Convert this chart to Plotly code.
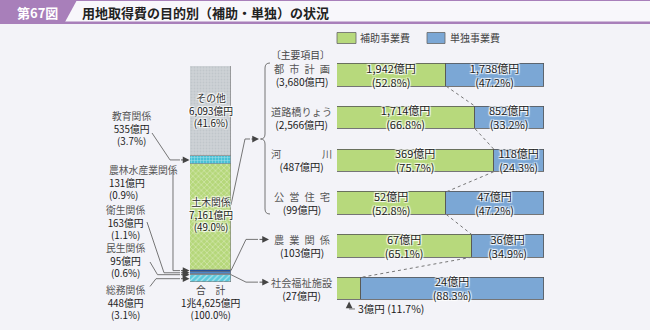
import plotly.graph_objects as go

W, H = 650, 330
FONT = "Noto Sans CJK JP, Noto Sans, sans-serif"

# ---------------- data ----------------
# left stacked bar, bottom -> top (億円)
seg_names = ["総務関係", "民生関係", "衛生関係", "農林水産業関係", "土木関係", "教育関係", "その他"]
seg_values = [448, 95, 163, 131, 7161, 535, 6093]
seg_pcts = [3.1, 0.6, 1.1, 0.9, 49.0, 3.7, 41.6]
total_text = "1兆4,625億円"
total_pct = 100.0

# right: main items (億円 / %)
row_names = ["都市計画", "道路橋りょう", "河川", "公営住宅", "農業関係", "社会福祉施設"]
row_labels = ["都\u2002市\u2002計\u2002画", "道路橋りょう", "河\u3000\u3000\u3000\u3000川",
              "公\u2002営\u2002住\u2002宅", "農\u2002業\u2002関\u2002係", "社会福祉施設"]
row_totals = [3680, 2566, 487, 99, 103, 27]
hojo_values = [1942, 1714, 369, 52, 67, 3]
hojo_pcts = [52.8, 66.8, 75.7, 52.8, 65.1, 11.7]
tandoku_values = [1738, 852, 118, 47, 36, 24]
tandoku_pcts = [47.2, 33.2, 24.3, 47.2, 34.9, 88.3]
legend_names = ["補助事業費", "単独事業費"]

# ---------------- styles / geometry ----------------
GREEN = "#b7d97c"
BLUE = "#7ba7d5"
PURPLE = "#a87fba"
BG = "#f3f3f8"
LINE = "#666666"
SHADOW = "1px 1px 1px #ffffff, -1px -1px 1px #ffffff, 1px -1px 1px #ffffff, -1px 1px 1px #ffffff"

L_X0, L_X1, L_TOP, L_BOT = 190, 231, 66, 282
R_X0, R_X1, R_TOP, R_BOT = 337, 544, 53.6, 310
BAR_W = 0.53

seg_styles = [
    dict(color="#5cc9dc", pattern=dict(shape="/", fgcolor="#ffffff", size=4, solidity=0.3)),
    dict(color="#98a1ab"),
    dict(color="#4f86c6"),
    dict(color="#24539b"),
    dict(color="#b5d77a", pattern=dict(shape="x", fgcolor="#eef6dc", size=4, solidity=0.35)),
    dict(color="#49c1d6", pattern=dict(shape="+", fgcolor="#ffffff", size=3, solidity=0.3)),
    dict(color="#cdd2d6", pattern=dict(shape=".", fgcolor="#b3b9be", size=3, solidity=0.3)),
]


def px(x):
    return x / W


def py(y):
    return 1 - y / H


total_sum = sum(seg_values)
seg_mids = []
acc = 0
for v in seg_values:
    seg_mids.append(acc + v / 2)
    acc += v


def left_ypx(v):
    return L_BOT - v / total_sum * (L_BOT - L_TOP)


n_rows = len(row_names)
row_step = (R_BOT - R_TOP) / n_rows


def row_center(i):
    return R_TOP + (i + 0.5) * row_step


def r_xpx(p):
    return R_X0 + p / 100 * (R_X1 - R_X0)


fig = go.Figure()

# ---------------- left stacked bar ----------------
for name, val, st in zip(seg_names, seg_values, seg_styles):
    fig.add_bar(x=[0], y=[val], width=1, name=name, xaxis="x", yaxis="y",
                marker=dict(line=dict(color="#7a7a7a", width=0.6), **st),
                hoverinfo="skip", showlegend=False)

# ---------------- right horizontal stacked bars ----------------
ys = list(range(n_rows))
hojo_text = [f"{v:,}億円<br>({p:.1f}%)" if p > 20 else "" for v, p in zip(hojo_values, hojo_pcts)]
tan_text = [f"{v:,}億円<br>({p:.1f}%)" for v, p in zip(tandoku_values, tandoku_pcts)]
common = dict(orientation="h", xaxis="x2", yaxis="y2", width=BAR_W, textposition="inside",
              insidetextanchor="middle", textangle=0, constraintext="none",
              hoverinfo="skip", showlegend=False)
fig.add_bar(y=ys, x=hojo_pcts, name=legend_names[0], text=hojo_text,
            marker=dict(color=GREEN, line=dict(color="#555555", width=0.8)),
            textfont=dict(family=FONT, size=11, color="#222222", shadow=SHADOW), **common)
fig.add_bar(y=ys, x=tandoku_pcts, name=legend_names[1], text=tan_text,
            marker=dict(color=BLUE, line=dict(color="#555555", width=0.8)),
            textfont=dict(family=FONT, size=11, color="#222222", shadow=SHADOW), **common)

# dotted connectors between the green/blue boundaries
for i in range(n_rows - 1):
    fig.add_scatter(x=[hojo_pcts[i], hojo_pcts[i + 1]], y=[i + BAR_W / 2, i + 1 - BAR_W / 2],
                    mode="lines", xaxis="x2", yaxis="y2", hoverinfo="skip", showlegend=False,
                    line=dict(color="#777777", width=1, dash="dot"))

# ---------------- decorations ----------------
shapes = []
annotations = []


def text(x, y, lines, size=10, xanchor="center", align=None, shadow=None):
    """lines: list of (text, color, bold)."""
    parts = []
    for t, c, b in lines:
        if b:
            t = f"<b>{t}</b>"
        parts.append(f"<span style='color:{c}'>{t}</span>")
    font = dict(family=FONT, size=size, color=lines[0][1])
    if shadow:
        font["shadow"] = shadow
    annotations.append(dict(x=px(x), y=py(y), xref="paper", yref="paper", text="<br>".join(parts),
                            showarrow=False, xanchor=xanchor, yanchor="middle",
                            align=align or ("left" if xanchor == "left" else "center"),
                            borderpad=0, font=font))


def poly(points, color=LINE, width=0.9):
    d = "M" + " L".join(f"{px(x):.5f},{py(y):.5f}" for x, y in points)
    shapes.append(dict(type="path", xref="paper", yref="paper", path=d,
                       line=dict(color=color, width=width), layer="above"))


def arrow(x_tip, y_tip, ax, ay):
    annotations.append(dict(x=px(x_tip), y=py(y_tip), xref="paper", yref="paper", text="",
                            showarrow=True, ax=ax, ay=ay, axref="pixel", ayref="pixel",
                            arrowhead=2, arrowsize=1.5, arrowwidth=0.9, arrowcolor="#444444",
                            standoff=0, startstandoff=0))


NAME_C = "#555555"
NUM_C = "#1a1a1a"

# title band
shapes.append(dict(type="rect", xref="paper", yref="paper", x0=0, x1=1, y0=py(22), y1=1,
                   fillcolor="#f8f7fb", line=dict(width=0), layer="below"))
shapes.append(dict(type="rect", xref="paper", yref="paper", x0=0, x1=1, y0=py(24), y1=py(21.5),
                   fillcolor=PURPLE, line=dict(width=0), layer="below"))
shapes.append(dict(type="rect", xref="paper", yref="paper", x0=0, x1=1, y0=py(1), y1=1,
                   fillcolor=PURPLE, line=dict(width=0), layer="below"))
shapes.append(dict(type="path", xref="paper", yref="paper",
                   path=f"M0,1 L{px(77)},1 L{px(65)},{py(22)} L0,{py(22)} Z",
                   fillcolor=PURPLE, line=dict(width=0), layer="below"))
text(37, 12, [("第67図", "#ffffff", True)], size=13)
text(81, 12, [("用地取得費の目的別（補助・単独）の状況", "#222222", True)], size=13, xanchor="left")

# legend
for (x0, x1), col, lab, tx in [((337, 356), GREEN, legend_names[0], 359), ((427, 445), BLUE, legend_names[1], 449)]:
    shapes.append(dict(type="rect", xref="paper", yref="paper", x0=px(x0), x1=px(x1), y0=py(43.5), y1=py(32.5),
                       fillcolor=col, line=dict(color="#666666", width=0.8), layer="above"))
    text(tx, 38, [(lab, "#444444", False)], size=10, xanchor="left")

# left bar inner labels (positioned from data)
for idx, shift in ((6, 0), (4, -2)):
    ymid = left_ypx(seg_mids[idx]) + shift
    text(210.5, ymid, [(seg_names[idx], "#333333", False), (f"{seg_values[idx]:,}億円", NUM_C, False),
                       (f"({seg_pcts[idx]:.1f}%)", NUM_C, False)], size=9.8, shadow=SHADOW)

# total under bar
text(210, 302.5, [("合\u3000計", "#444444", False), (total_text, NUM_C, False),
                  (f"({total_pct:.1f}%)", NUM_C, False)], size=9.8)

# left small-segment labels
left_lab = {
    5: dict(x=131, y=128.5, anchor="center", start=(152, 133), knee=170),
    3: dict(x=108, y=182, anchor="left", start=(173, 171), knee=173),
    2: dict(x=126, y=222, anchor="center", start=(147, 222), knee=164),
    1: dict(x=126, y=260, anchor="center", start=(150, 262), knee=157.5),
    0: dict(x=126, y=302.5, anchor="center", start=(150, 286.5), knee=156),
}
for idx, d in left_lab.items():
    lines = [(seg_names[idx], NAME_C, False), (f"{seg_values[idx]:,}億円", NUM_C, False),
             (f"({seg_pcts[idx]:.1f}%)", NUM_C, False)]
    text(d["x"], d["y"], lines, size=9.8, xanchor=d["anchor"])
    yt = left_ypx(seg_mids[idx])
    poly([d["start"], (d["knee"], yt), (180, yt)])
    arrow(189.5, yt, -10, 0)

# right side: bracket + leaders
text(270, 55, [("〔主要項目〕", "#444444", False)], size=9.8, xanchor="left")
shapes.append(dict(type="path", xref="paper", yref="paper", layer="above",
                   path=(f"M{px(270)},{py(63)} Q{px(265)},{py(63)} {px(265)},{py(68)} "
                         f"L{px(265)},{py(134)} Q{px(265)},{py(139)} {px(260.5)},{py(139)} "
                         f"Q{px(265)},{py(139)} {px(265)},{py(144)} L{px(265)},{py(209)} "
                         f"Q{px(265)},{py(214)} {px(270)},{py(214)}"),
                   line=dict(color=LINE, width=0.9)))
poly([(231, 205), (245, 139), (250, 139)])
arrow(259, 139, -9, 0)

y_agri = row_center(4) - 6.5
y_welf = row_center(5) - 6.5
poly([(231, left_ypx(seg_mids[3])), (246, y_agri), (258, y_agri)])
arrow(269, y_agri, -11, 0)
poly([(231, left_ypx(seg_mids[1])), (246, y_welf), (258, y_welf)])
arrow(269, y_welf, -11, 0)

# row labels
for i in range(n_rows):
    c = row_center(i)
    text(301.5, c, [(row_labels[i], NAME_C, False), (f"({row_totals[i]:,}億円)", NUM_C, False)], size=10.2)

# small-value callout for last green bar
last = n_rows - 1
xa = r_xpx(hojo_pcts[last] / 2)
bar_bottom = row_center(last) + BAR_W / 2 * row_step
poly([(xa, bar_bottom + 9), (355, bar_bottom + 9)])
arrow(xa, bar_bottom + 1.5, 0, 8)
text(357, bar_bottom + 9, [(f"{hojo_values[last]}億円 ({hojo_pcts[last]:.1f}%)", NUM_C, False)], size=10.5,
     xanchor="left")

fig.update_layout(
    width=W, height=H, margin=dict(l=0, r=0, t=0, b=0),
    paper_bgcolor=BG, plot_bgcolor="rgba(0,0,0,0)",
    barmode="stack", bargap=0, showlegend=False,
    font=dict(family=FONT, size=10, color="#333333"),
    xaxis=dict(domain=[px(L_X0), px(L_X1)], range=[-0.5, 0.5], visible=False, fixedrange=True),
    yaxis=dict(domain=[py(L_BOT), py(L_TOP)], range=[0, total_sum], visible=False, fixedrange=True),
    xaxis2=dict(domain=[px(R_X0), px(R_X1)], range=[0, 100], visible=False, anchor="y2", fixedrange=True),
    yaxis2=dict(domain=[py(R_BOT), py(R_TOP)], range=[n_rows - 0.5, -0.5], visible=False, anchor="x2",
                fixedrange=True),
    shapes=shapes, annotations=annotations,
)

fig.write_html("out.html")
